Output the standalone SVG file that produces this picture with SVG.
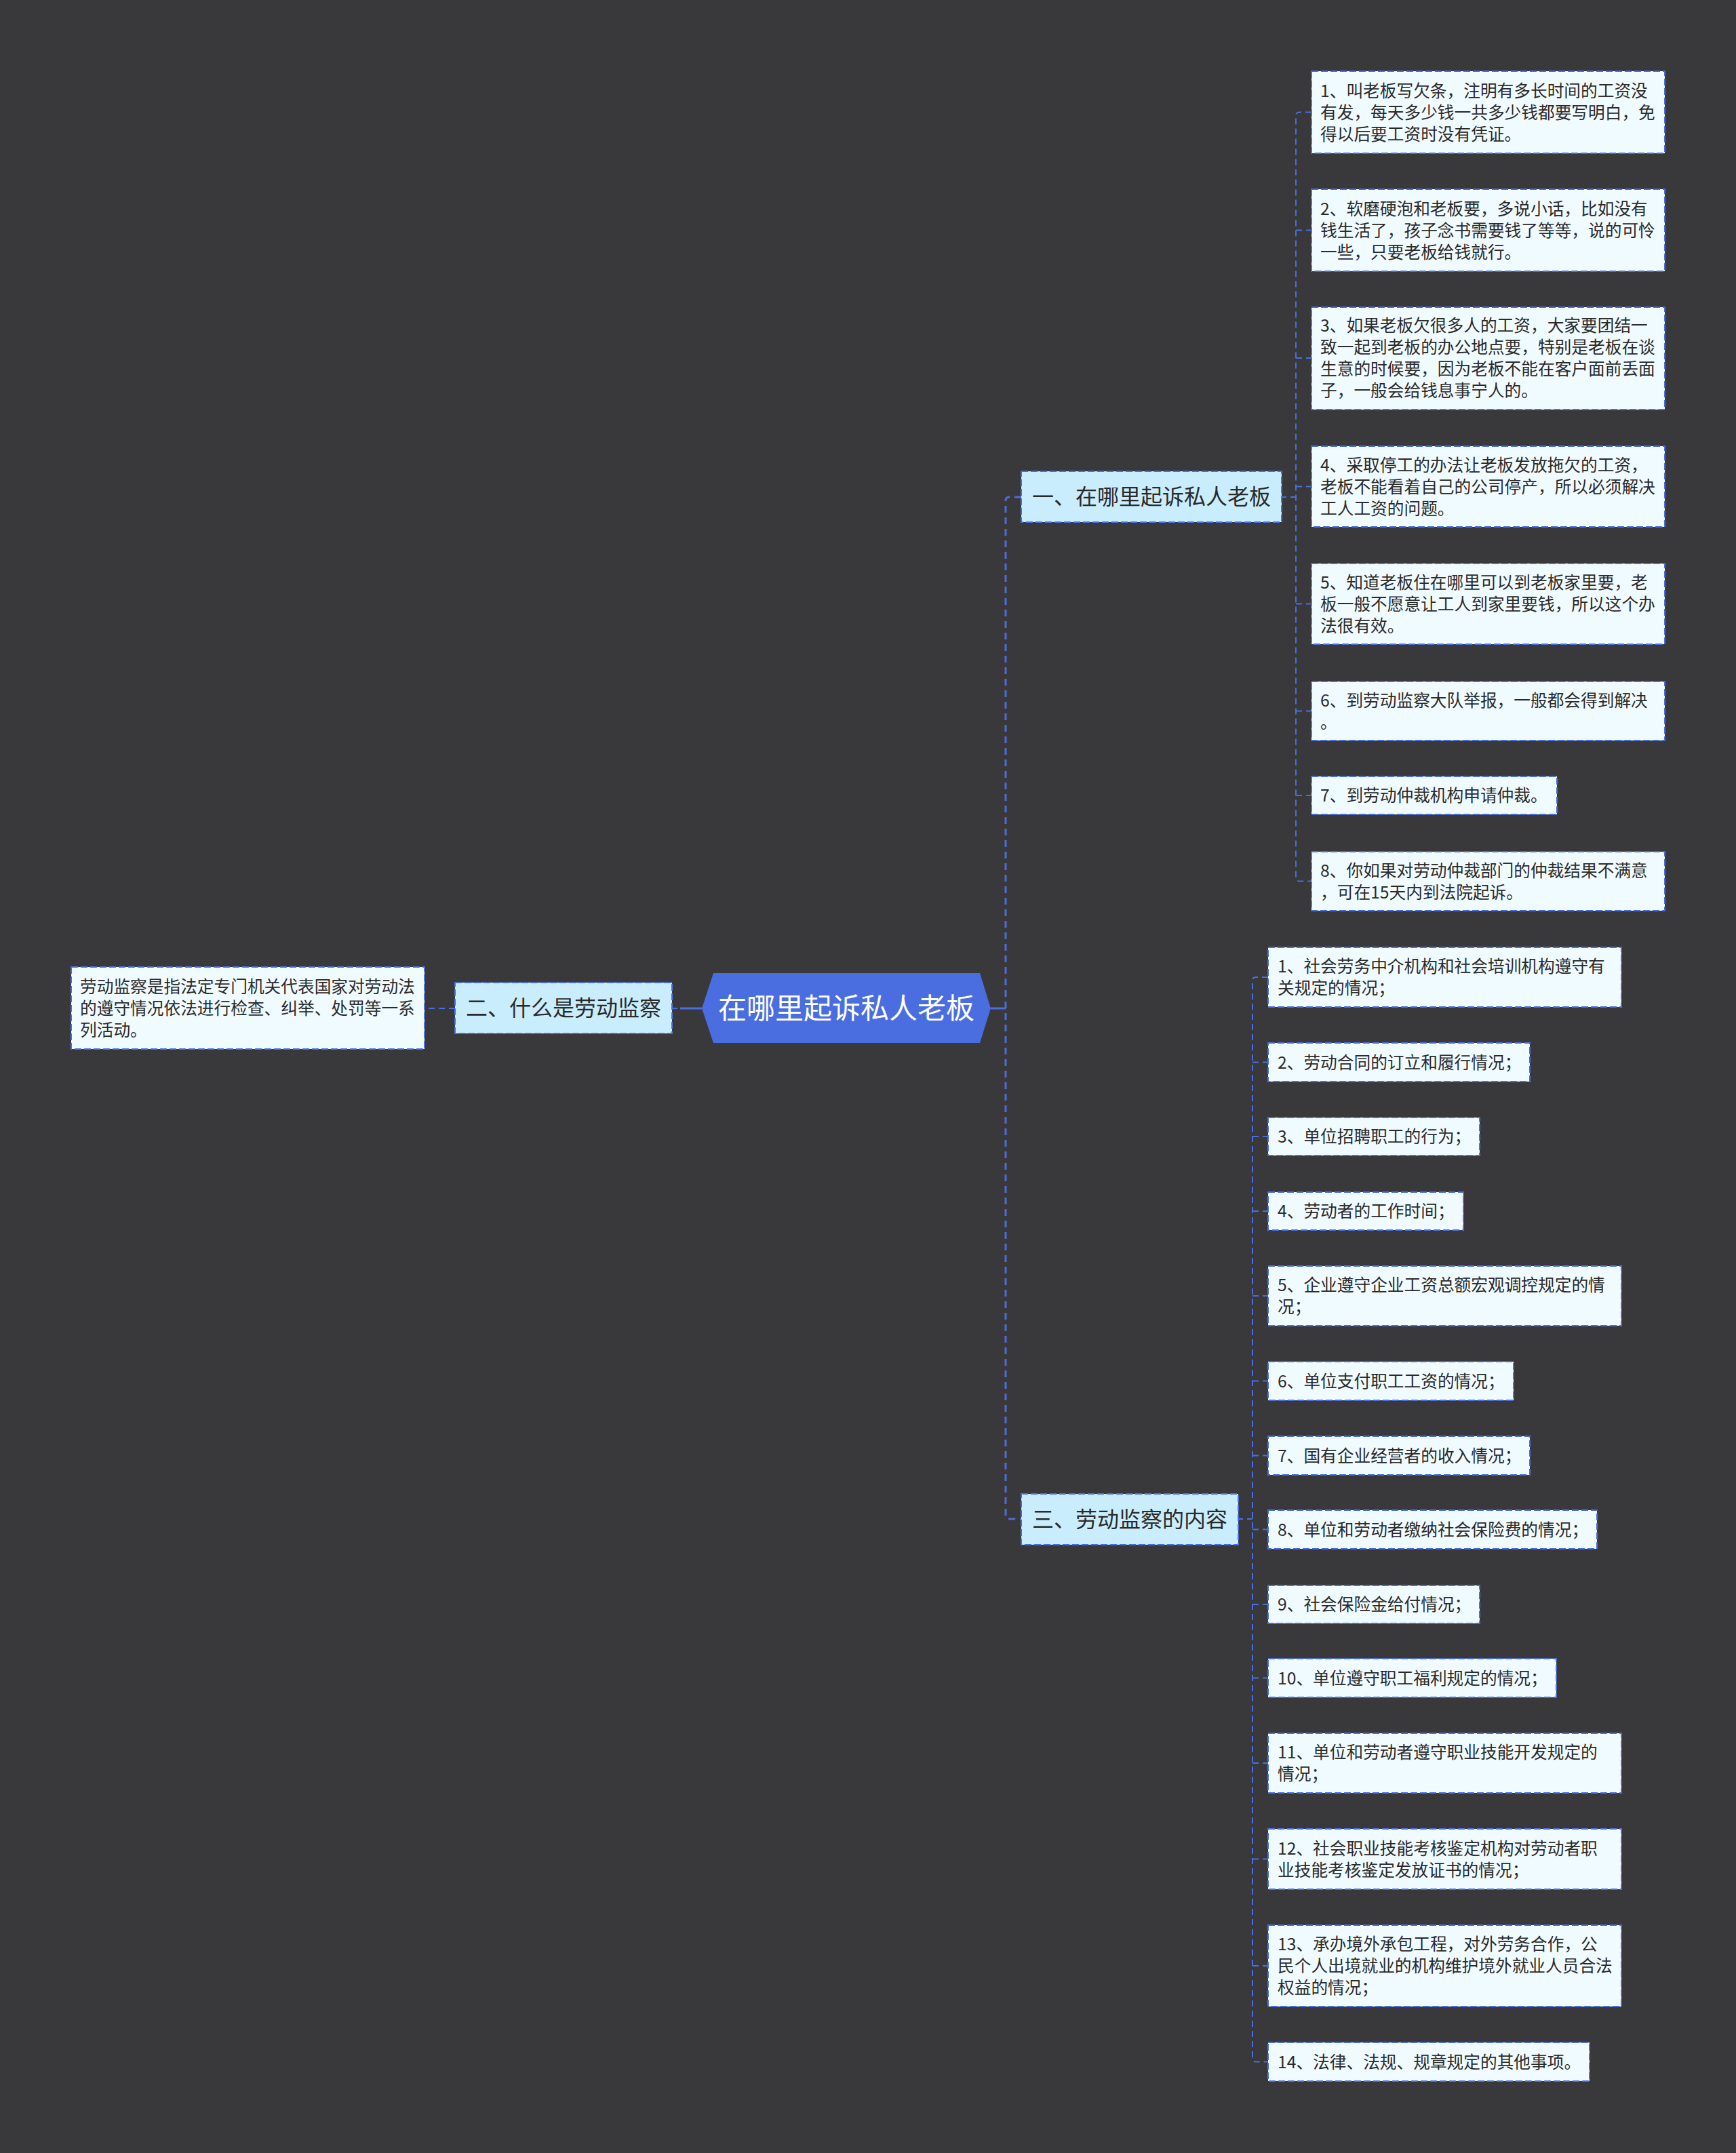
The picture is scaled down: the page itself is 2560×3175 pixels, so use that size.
<svg xmlns="http://www.w3.org/2000/svg" width="2560" height="3175" viewBox="0 0 2560 3175">
<style>
.bg{fill:#39383a}
.root{fill:#4a6ee0}
.rt{font-family:"Noto Sans CJK SC","Noto Sans",sans-serif;font-size:42px;fill:#ffffff;text-anchor:middle}
.sub{fill:#c9edfc;stroke:#4a6ee0;stroke-width:2;stroke-dasharray:10 4}
.st{font-family:"Noto Sans CJK SC","Noto Sans",sans-serif;font-size:32px;fill:#2a2a2a;text-anchor:middle}
.leaf{fill:#f0fbff;stroke:#4a6ee0;stroke-width:2;stroke-dasharray:10 4}
.lt{font-family:"Noto Sans CJK SC","Noto Sans",sans-serif;font-size:24.7px;fill:#2a2a2a}
.c{fill:none;stroke:#4a6ee0;stroke-width:2;stroke-dasharray:9 6}
.cm{fill:none;stroke:#4a6ee0;stroke-width:3;stroke-dasharray:10 7}
.cs{fill:none;stroke:#4a6ee0;stroke-width:3}
</style>
<rect class="bg" x="0" y="0" width="2560" height="3175"/>
<g id="connectors">
<path class="cs" d="M1461,1487 H1483"/>
<path class="cm" d="M1506,733 H1488 Q1483,733 1483,738 V2235 Q1483,2240 1488,2240 H1506"/>
<path class="cs" d="M1035,1487 H1003"/>
<path class="c" d="M999,1487 H991"/>
<path class="c" d="M671,1487 H626"/>
<path class="c" d="M1888,733 H1911"/>
<path class="c" d="M1934,165.5 H1916 Q1911,165.5 1911,170.5 V1294.5 Q1911,1299.5 1916,1299.5 H1934"/>
<path class="c" d="M1911,339.5 H1934 M1911,528 H1934 M1911,717.5 H1934 M1911,890.5 H1934 M1911,1048.5 H1934 M1911,1173 H1934"/>
<path class="c" d="M1824,2240 H1847"/>
<path class="c" d="M1870,1441 H1852 Q1847,1441 1847,1446 V3035.5 Q1847,3040.5 1852,3040.5 H1870"/>
<path class="c" d="M1847,1566.5 H1870 M1847,1676 H1870 M1847,1786 H1870 M1847,1911 H1870 M1847,2036.5 H1870 M1847,2146.5 H1870 M1847,2255.5 H1870 M1847,2366 H1870 M1847,2474.5 H1870 M1847,2600 H1870 M1847,2741.5 H1870 M1847,2899 H1870"/>
</g>
<g id="root">
<polygon class="root" points="1035,1487 1052,1435 1445,1435 1461,1487 1445,1538 1052,1538"/>
<text class="rt" x="1248" y="1502">在哪里起诉私人老板</text>
</g>
<g id="n2">
<rect class="sub" x="671" y="1449" width="320" height="75"/>
<text class="st" x="831" y="1498">二、什么是劳动监察</text>
</g>
<g id="n2-1">
<rect class="leaf" x="105" y="1426" width="521" height="121"/>
<text class="lt" x="118" y="1463.5">劳动监察是指法定专门机关代表国家对劳动法</text>
<text class="lt" x="118" y="1495.5">的遵守情况依法进行检查、纠举、处罚等一系</text>
<text class="lt" x="118" y="1527.5">列活动。</text>
</g>
<g id="n1">
<rect class="sub" x="1506" y="695" width="384" height="75"/>
<text class="st" x="1698" y="744">一、在哪里起诉私人老板</text>
</g>
<g id="n1-1">
<rect class="leaf" x="1934" y="105" width="521" height="121"/>
<text class="lt" x="1947" y="142.5">1、叫老板写欠条，注明有多长时间的工资没</text>
<text class="lt" x="1947" y="174.5">有发，每天多少钱一共多少钱都要写明白，免</text>
<text class="lt" x="1947" y="206.5">得以后要工资时没有凭证。</text>
</g>
<g id="n1-2">
<rect class="leaf" x="1934" y="279" width="521" height="121"/>
<text class="lt" x="1947" y="316.5">2、软磨硬泡和老板要，多说小话，比如没有</text>
<text class="lt" x="1947" y="348.5">钱生活了，孩子念书需要钱了等等，说的可怜</text>
<text class="lt" x="1947" y="380.5">一些，只要老板给钱就行。</text>
</g>
<g id="n1-3">
<rect class="leaf" x="1934" y="453" width="521" height="151"/>
<text class="lt" x="1947" y="489">3、如果老板欠很多人的工资，大家要团结一</text>
<text class="lt" x="1947" y="521">致一起到老板的办公地点要，特别是老板在谈</text>
<text class="lt" x="1947" y="553">生意的时候要，因为老板不能在客户面前丢面</text>
<text class="lt" x="1947" y="585">子，一般会给钱息事宁人的。</text>
</g>
<g id="n1-4">
<rect class="leaf" x="1934" y="658" width="521" height="119"/>
<text class="lt" x="1947" y="694.5">4、采取停工的办法让老板发放拖欠的工资，</text>
<text class="lt" x="1947" y="726.5">老板不能看着自己的公司停产，所以必须解决</text>
<text class="lt" x="1947" y="758.5">工人工资的问题。</text>
</g>
<g id="n1-5">
<rect class="leaf" x="1934" y="831" width="521" height="119"/>
<text class="lt" x="1947" y="867.5">5、知道老板住在哪里可以到老板家里要，老</text>
<text class="lt" x="1947" y="899.5">板一般不愿意让工人到家里要钱，所以这个办</text>
<text class="lt" x="1947" y="931.5">法很有效。</text>
</g>
<g id="n1-6">
<rect class="leaf" x="1934" y="1005" width="521" height="87"/>
<text class="lt" x="1947" y="1041.5">6、到劳动监察大队举报，一般都会得到解决</text>
<text class="lt" x="1947" y="1073.5">。</text>
</g>
<g id="n1-7">
<rect class="leaf" x="1934" y="1145" width="362" height="56"/>
<text class="lt" x="1947" y="1182">7、到劳动仲裁机构申请仲裁。</text>
</g>
<g id="n1-8">
<rect class="leaf" x="1934" y="1256" width="521" height="87"/>
<text class="lt" x="1947" y="1292.5">8、你如果对劳动仲裁部门的仲裁结果不满意</text>
<text class="lt" x="1947" y="1324.5">，可在15天内到法院起诉。</text>
</g>
<g id="n3">
<rect class="sub" x="1506" y="2203" width="320" height="75"/>
<text class="st" x="1666" y="2252">三、劳动监察的内容</text>
</g>
<g id="n3-1">
<rect class="leaf" x="1870" y="1397" width="521" height="88"/>
<text class="lt" x="1884" y="1434">1、社会劳务中介机构和社会培训机构遵守有</text>
<text class="lt" x="1884" y="1466">关规定的情况；</text>
</g>
<g id="n3-2">
<rect class="leaf" x="1870" y="1538" width="386" height="57"/>
<text class="lt" x="1884" y="1575.5">2、劳动合同的订立和履行情况；</text>
</g>
<g id="n3-3">
<rect class="leaf" x="1870" y="1648" width="312" height="56"/>
<text class="lt" x="1884" y="1685">3、单位招聘职工的行为；</text>
</g>
<g id="n3-4">
<rect class="leaf" x="1870" y="1758" width="288" height="56"/>
<text class="lt" x="1884" y="1795">4、劳动者的工作时间；</text>
</g>
<g id="n3-5">
<rect class="leaf" x="1870" y="1867" width="521" height="88"/>
<text class="lt" x="1884" y="1904">5、企业遵守企业工资总额宏观调控规定的情</text>
<text class="lt" x="1884" y="1936">况；</text>
</g>
<g id="n3-6">
<rect class="leaf" x="1870" y="2008" width="362" height="57"/>
<text class="lt" x="1884" y="2045.5">6、单位支付职工工资的情况；</text>
</g>
<g id="n3-7">
<rect class="leaf" x="1870" y="2118" width="386" height="57"/>
<text class="lt" x="1884" y="2155.5">7、国有企业经营者的收入情况；</text>
</g>
<g id="n3-8">
<rect class="leaf" x="1870" y="2227" width="485" height="57"/>
<text class="lt" x="1884" y="2264.5">8、单位和劳动者缴纳社会保险费的情况；</text>
</g>
<g id="n3-9">
<rect class="leaf" x="1870" y="2338" width="312" height="56"/>
<text class="lt" x="1884" y="2375">9、社会保险金给付情况；</text>
</g>
<g id="n3-10">
<rect class="leaf" x="1870" y="2446" width="425" height="57"/>
<text class="lt" x="1884" y="2483.5">10、单位遵守职工福利规定的情况；</text>
</g>
<g id="n3-11">
<rect class="leaf" x="1870" y="2556" width="521" height="88"/>
<text class="lt" x="1884" y="2593">11、单位和劳动者遵守职业技能开发规定的</text>
<text class="lt" x="1884" y="2625">情况；</text>
</g>
<g id="n3-12">
<rect class="leaf" x="1870" y="2697" width="521" height="89"/>
<text class="lt" x="1884" y="2734.5">12、社会职业技能考核鉴定机构对劳动者职</text>
<text class="lt" x="1884" y="2766.5">业技能考核鉴定发放证书的情况；</text>
</g>
<g id="n3-13">
<rect class="leaf" x="1870" y="2839" width="521" height="120"/>
<text class="lt" x="1884" y="2876">13、承办境外承包工程，对外劳务合作，公</text>
<text class="lt" x="1884" y="2908">民个人出境就业的机构维护境外就业人员合法</text>
<text class="lt" x="1884" y="2940">权益的情况；</text>
</g>
<g id="n3-14">
<rect class="leaf" x="1870" y="3012" width="474" height="57"/>
<text class="lt" x="1884" y="3049.5">14、法律、法规、规章规定的其他事项。</text>
</g>
</svg>
